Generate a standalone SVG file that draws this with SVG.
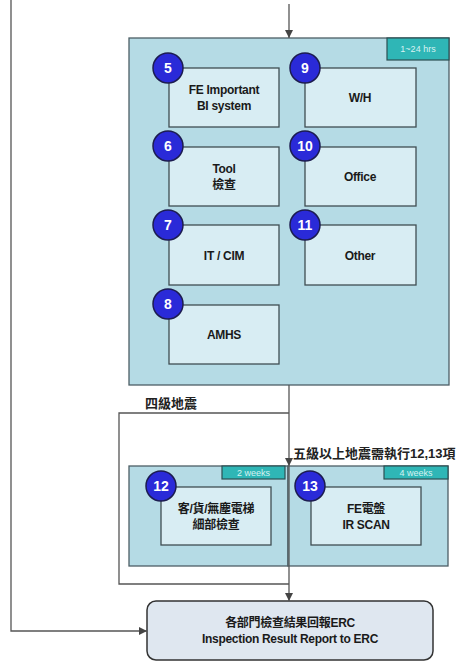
<svg xmlns="http://www.w3.org/2000/svg" width="462" height="662" viewBox="0 0 462 662">
<defs>
<style>
.panel{fill:#b5dbe5;stroke:#4d5f66;stroke-width:1.3}
.tag{fill:#2fb6b6;stroke:#2c4f52;stroke-width:1.2}
.tagt{font-family:"Liberation Sans","Noto Sans CJK TC",sans-serif;font-size:9px;fill:#d8f2f2;text-anchor:middle}
.box{fill:#d8edf3;stroke:#3f4d52;stroke-width:1.3}
.num{fill:#2a2ad8;stroke:#1c1c50;stroke-width:1.5}
.numt{font-family:"Liberation Sans",sans-serif;font-size:14px;font-weight:bold;fill:#fff;text-anchor:middle}
.t{font-family:"Liberation Sans","Noto Sans CJK TC",sans-serif;font-size:12px;font-weight:bold;fill:#1a1a1a;text-anchor:middle;letter-spacing:-0.3px}
.lbl{font-family:"Liberation Sans","Noto Sans CJK TC",sans-serif;font-size:13px;font-weight:bold;fill:#222}
.edge{fill:none;stroke:#555;stroke-width:1.3}
.erc{fill:#dfe7f0;stroke:#333;stroke-width:1.5}
</style>
<marker id="ah" markerWidth="10" markerHeight="10" refX="9" refY="5" orient="auto" markerUnits="userSpaceOnUse">
<path d="M1,1 L9,5 L1,9 Z" fill="#444"/>
</marker>
</defs>

<g id="panel-24hrs">
<rect class="panel" x="129" y="38" width="320" height="347"/>
<rect class="tag" x="387" y="38" width="62" height="22"/>
<text class="tagt" x="418" y="52">1~24 hrs</text>
</g>

<g id="node5">
<rect class="box" x="169" y="68" width="110" height="59"/>
<text class="t" x="224" y="94">FE Important</text>
<text class="t" x="224" y="110">BI system</text>
<circle class="num" cx="168" cy="68" r="15"/>
<text class="numt" x="168" y="73">5</text>
</g>
<g id="node9">
<rect class="box" x="305" y="68" width="111" height="59"/>
<text class="t" x="360" y="102">W/H</text>
<circle class="num" cx="305" cy="68" r="15"/>
<text class="numt" x="305" y="73">9</text>
</g>
<g id="node6">
<rect class="box" x="169" y="147" width="110" height="59"/>
<text class="t" x="224" y="173">Tool</text>
<text class="t" x="224" y="189">檢查</text>
<circle class="num" cx="168" cy="146" r="15"/>
<text class="numt" x="168" y="151">6</text>
</g>
<g id="node10">
<rect class="box" x="305" y="147" width="111" height="59"/>
<text class="t" x="360" y="181">Office</text>
<circle class="num" cx="305" cy="146" r="15"/>
<text class="numt" x="305" y="151">10</text>
</g>
<g id="node7">
<rect class="box" x="169" y="225" width="110" height="60"/>
<text class="t" x="224" y="260">IT / CIM</text>
<circle class="num" cx="168" cy="225" r="15"/>
<text class="numt" x="168" y="230">7</text>
</g>
<g id="node11">
<rect class="box" x="305" y="225" width="111" height="60"/>
<text class="t" x="360" y="260">Other</text>
<circle class="num" cx="305" cy="225" r="15"/>
<text class="numt" x="305" y="230">11</text>
</g>
<g id="node8">
<rect class="box" x="169" y="305" width="110" height="59"/>
<text class="t" x="224" y="339">AMHS</text>
<circle class="num" cx="168" cy="304" r="15"/>
<text class="numt" x="168" y="309">8</text>
</g>

<g id="panel-2weeks">
<rect class="panel" x="129" y="466" width="159" height="100"/>
<rect class="tag" x="222" y="466" width="63" height="13"/>
<text class="tagt" x="253.5" y="476">2 weeks</text>
</g>
<g id="panel-4weeks">
<rect class="panel" x="288" y="466" width="160" height="100"/>
<rect class="tag" x="384" y="466" width="64" height="13"/>
<text class="tagt" x="416" y="476">4 weeks</text>
</g>
<g id="node12">
<rect class="box" x="161" y="487" width="110" height="58"/>
<text class="t" x="216" y="513">客/貨/無塵電梯</text>
<text class="t" x="216" y="529">細部檢查</text>
<circle class="num" cx="161" cy="486" r="15"/>
<text class="numt" x="161" y="491">12</text>
</g>
<g id="node13">
<rect class="box" x="311" y="487" width="110" height="58"/>
<text class="t" x="366" y="513">FE電盤</text>
<text class="t" x="366" y="529">IR SCAN</text>
<circle class="num" cx="310" cy="486" r="15"/>
<text class="numt" x="310" y="491">13</text>
</g>

<g id="node-erc">
<rect class="erc" x="147" y="601" width="286" height="59" rx="9"/>
<text class="t" x="290" y="627">各部門檢查結果回報ERC</text>
<text class="t" x="290" y="643">Inspection Result Report to ERC</text>
</g>

<g id="connectors">
<path class="edge" d="M289 4 V38" marker-end="url(#ah)"/>
<path class="edge" d="M11 0 V631 H147" marker-end="url(#ah)"/>
<path class="edge" d="M289 385 V466" marker-end="url(#ah)"/>
<path class="edge" d="M289 466 V601" marker-end="url(#ah)"/>
<path class="edge" d="M289 413 H119 V584 H289"/>
<text class="lbl" x="145" y="408">四級地震</text>
<text class="lbl" x="293" y="458">五級以上地震需執行12,13項</text>
</g>
</svg>
